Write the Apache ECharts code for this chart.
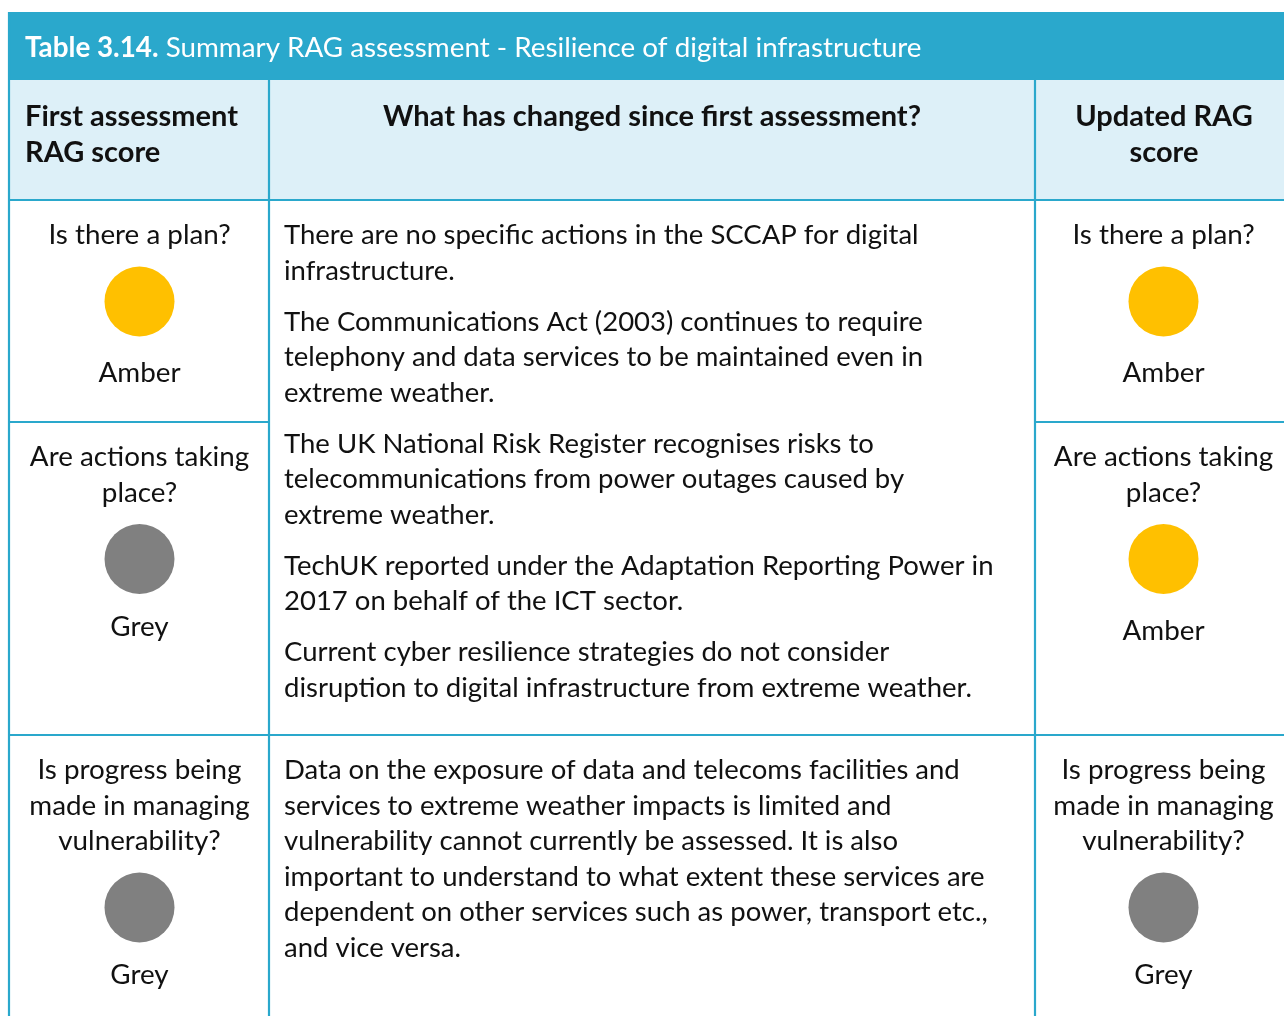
<!DOCTYPE html>
<html><head><meta charset="utf-8">
<script src="https://cdn.jsdelivr.net/npm/echarts@6/dist/echarts.min.js"></script>
<style>html,body{margin:0;padding:0;background:#fff}#c{width:1284px;height:1016px}</style>
</head><body><div id="c"></div>
<script>
// ---- DATA ----
const titleBold = 'Table 3.14.';
const titleRest = ' Summary RAG assessment - Resilience of digital infrastructure';
const headers = ['First assessment\nRAG score', 'What has changed since first assessment?', 'Updated RAG\nscore'];
const questions = ['Is there a plan?', 'Are actions taking\nplace?', 'Is progress being\nmade in managing\nvulnerability?'];
const firstScores = ['Amber', 'Grey', 'Grey'];
const updatedScores = ['Amber', 'Amber', 'Grey'];
const changesRows12 = [
  'There are no specific actions in the SCCAP for digital\ninfrastructure.',
  'The Communications Act (2003) continues to require\ntelephony and data services to be maintained even in\nextreme weather.',
  'The UK National Risk Register recognises risks to\ntelecommunications from power outages caused by\nextreme weather.',
  'TechUK reported under the Adaptation Reporting Power in\n2017 on behalf of the ICT sector.',
  'Current cyber resilience strategies do not consider\ndisruption to digital infrastructure from extreme weather.'
];
const changesRow3 = [
  'Data on the exposure of data and telecoms facilities and\nservices to extreme weather impacts is limited and\nvulnerability cannot currently be assessed. It is also\nimportant to understand to what extent these services are\ndependent on other services such as power, transport etc.,\nand vice versa.'
];
const changesByRow = [changesRows12, null, changesRow3];

// ---- LAYOUT / STYLE ----
const W = 1284, H = 1016;
const FONT = 'Lato';
const FS = 27.5, FS_Q = 27.8, FS_TITLE = 27.8, FS_HEAD = 29;
const LH = 35.5;
const PARA_GAP = 15.5;
const colX = [9, 269, 1035, 1284];
const titleTop = 12, headTop = 80;
const rowTops = [200, 422, 735];
const blue = '#2aa8cc', headFill = '#ddf0f8', borderW = 2.2;
const scoreColor = {Amber: '#ffc000', Grey: '#808080'};
const labelDy = {Amber: 72, Grey: 68};
const R = 35;

const chart = echarts.init(document.getElementById('c'), null, {renderer: 'canvas'});

function textEl(x, y, s, align, weight, size, color) {
  return {type: 'text', style: {x: x, y: y, text: s, textAlign: align, textVerticalAlign: 'middle',
    font: (weight || 'normal') + ' ' + (size || FS) + 'px ' + FONT, fill: color || '#111'}};
}
function linesEl(out, x, y0, s, align, size) {
  const ls = s.split('\n');
  ls.forEach((ln, k) => out.push(textEl(x, y0 + k * LH, ln, align, 'normal', size)));
  return y0 + (ls.length - 1) * LH;
}

function renderItem(params, api) {
  const i = api.value(0);
  const p = (x, y) => api.coord([x, y]);
  const top = rowTops[i];
  const children = [];
  const cxL = (colX[0] + colX[1]) / 2 + 0.5, cxR = (colX[2] + colX[3]) / 2 + 4;
  [[cxL, firstScores[i]], [cxR, updatedScores[i]]].forEach(([cx, score]) => {
    const c = p(cx, 0)[0];
    const y0 = p(0, top + 35.5)[1];
    const yl = linesEl(children, c, y0, questions[i], 'center', FS_Q);
    const cy = yl + 66;
    children.push({type: 'circle', shape: {cx: c, cy: cy, r: R}, style: {fill: scoreColor[score]}});
    children.push(textEl(c, cy + labelDy[score], score, 'center', 'normal', FS_Q));
  });
  const ch = changesByRow[i];
  if (ch) {
    let y = p(0, top + 35.5)[1];
    ch.forEach(par => { y = linesEl(children, p(284, 0)[0], y, par, 'left', FS) + LH + PARA_GAP; });
  }
  const line = (x1, x2) => ({type: 'line', shape: {x1: p(x1, 0)[0], y1: p(0, top)[1], x2: p(x2, 0)[0], y2: p(0, top)[1]},
    style: {stroke: blue, lineWidth: borderW}});
  if (i !== 1) children.push(line(colX[0], W));
  else { children.push(line(colX[0], colX[1])); children.push(line(colX[2], W)); }
  return {type: 'group', children: children};
}

const graphics = [
  {type: 'rect', shape: {x: colX[0], y: titleTop, width: W - colX[0], height: headTop - titleTop}, style: {fill: blue}},
  {type: 'rect', shape: {x: colX[0], y: headTop, width: W - colX[0], height: rowTops[0] - headTop}, style: {fill: headFill}},
  {type: 'text', style: {x: 25, y: 48, textVerticalAlign: 'middle', text: '{b|' + titleBold + '}{r|' + titleRest + '}',
    rich: {b: {font: 'bold ' + FS_TITLE + 'px ' + FONT, fill: '#fff'}, r: {font: 'normal ' + FS_TITLE + 'px ' + FONT, fill: '#fff'}}}},
  textEl(25, 117, headers[0].split('\n')[0], 'left', 'bold', FS_HEAD),
  textEl(25, 153, headers[0].split('\n')[1], 'left', 'bold', FS_HEAD),
  textEl(652, 117, headers[1], 'center', 'bold', FS_HEAD),
  textEl(1164, 117, headers[2].split('\n')[0], 'center', 'bold', FS_HEAD),
  textEl(1164, 153, headers[2].split('\n')[1], 'center', 'bold', FS_HEAD),
  {type: 'line', shape: {x1: colX[0], y1: titleTop, x2: colX[0], y2: H}, style: {stroke: blue, lineWidth: borderW}},
  {type: 'line', shape: {x1: colX[1], y1: headTop, x2: colX[1], y2: H}, style: {stroke: blue, lineWidth: borderW}},
  {type: 'line', shape: {x1: colX[2], y1: headTop, x2: colX[2], y2: H}, style: {stroke: blue, lineWidth: borderW}}
];

chart.setOption({
  animation: false,
  grid: {left: 0, right: 0, top: 0, bottom: 0},
  xAxis: {type: 'value', min: 0, max: W, show: false},
  yAxis: {type: 'value', min: 0, max: H, inverse: true, show: false},
  graphic: graphics,
  series: [{type: 'custom', renderItem: renderItem, data: questions.map((q, i) => [i]), clip: false}]
});
</script></body></html>
